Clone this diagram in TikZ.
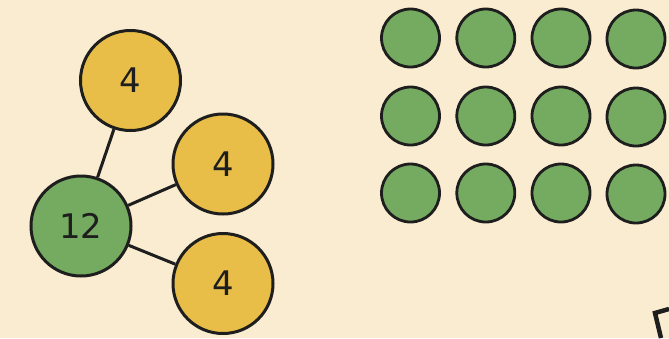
\documentclass[tikz,border=0pt]{standalone}
\usepackage{fontspec}
\setmainfont{DejaVu Sans}
\definecolor{paper}{RGB}{250,236,208}
\definecolor{gold}{RGB}{233,190,72}
\definecolor{leaf}{RGB}{116,171,97}
\definecolor{ink}{RGB}{30,30,30}
\tikzset{
  big/.style={circle,draw=ink,line width=3bp,minimum size=100bp,inner sep=0pt,
    text=ink,font=\fontsize{34}{34}\selectfont},
  part/.style={big,fill=gold},
  whole/.style={big,fill=leaf},
  dot/.style={circle,draw=ink,line width=2.8bp,fill=leaf,minimum size=58bp,inner sep=0pt}
}
\begin{document}
\begin{tikzpicture}[x=1bp,y=-1bp]
      \fill[paper] (0,0) rectangle (669,338);
      \useasboundingbox (0,0) rectangle (669,338);
      \draw
        (81,226) node[whole] (whole){12}
        (130.5,80.5) node[part] (top){4}
        (223,164) node[part] (mid){4}
        (223,283.5) node[part] (low){4};
      \begin{scope}[ink,line width=3bp]
        \draw (whole) to (top);
        \draw (whole) to (mid);
        \draw (whole) to (low);
      \end{scope}
      % twelve counters
      \draw
        (410.5,38) node[dot] (d1){}
        (485.8,38) node[dot] (d2){}
        (561,38) node[dot] (d3){}
        (636,39) node[dot] (d4){}
        (410.5,116) node[dot] (d5){}
        (485.8,116) node[dot] (d6){}
        (561,116) node[dot] (d7){}
        (636,117) node[dot] (d8){}
        (410.5,193) node[dot] (d9){}
        (485.8,193) node[dot] (d10){}
        (561,193) node[dot] (d11){}
        (636,194) node[dot] (d12){};
      % corner of a shape cut off by the edge
      \draw[ink,line width=4.5bp] (669,309) -- (655,313) -- (661,338);
    \end{tikzpicture}
\end{document}
